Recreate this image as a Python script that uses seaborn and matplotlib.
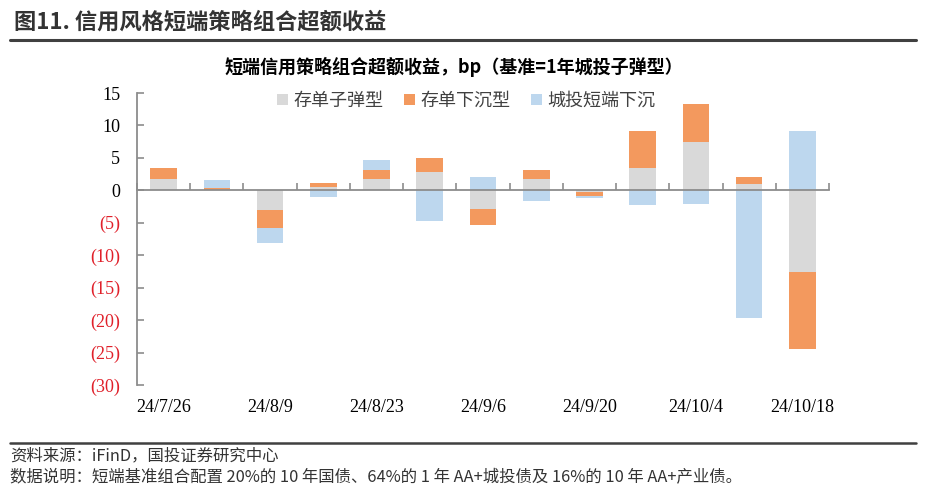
import numpy as np
import pandas as pd
import matplotlib
matplotlib.use("Agg")
import matplotlib.pyplot as plt
from matplotlib.patches import Patch
from matplotlib.lines import Line2D
import seaborn as sns

dates = ["24/7/26", "24/8/2", "24/8/9", "24/8/16", "24/8/23", "24/8/30", "24/9/6",
         "24/9/13", "24/9/20", "24/9/27", "24/10/4", "24/10/11", "24/10/18"]
series_names = ["存单子弹型", "存单下沉型", "城投短端下沉"]
cd_bullet = [1.7, 0.1, -3.0, 0.5, 1.75, 2.8, -2.8, 1.7, -0.3, 3.5, 7.5, 0.9, -12.6]
cd_sink = [1.8, 0.2, -2.8, 0.7, 1.45, 2.25, -2.6, 1.4, -0.6, 5.6, 5.75, 1.15, -11.9]
ct_sink = [0.0, 1.3, -2.3, -1.1, 1.45, -4.75, 2.05, -1.65, -0.3, -2.2, -2.1, -19.7, 9.2]
yticks = [15, 10, 5, 0, -5, -10, -15, -20, -25, -30]

colors = ["#D9D9D9", "#F3995E", "#BDD7EE"]

sns.set_theme(style="white")
plt.rcParams['font.family'] = ['Noto Sans CJK SC', 'DejaVu Sans']

fig = plt.figure(figsize=(9.26, 5.0), dpi=100)
ax = fig.add_axes([137 / 926, 1 - 385 / 500, (829 - 137) / 926, (385 - 93) / 500])

pos_base = np.zeros(len(dates))
neg_base = np.zeros(len(dates))
for name, vals, col in zip(series_names, [cd_bullet, cd_sink, ct_sink], colors):
    v = np.array(vals, dtype=float)
    bottom = np.where(v >= 0, pos_base, neg_base)
    df = pd.DataFrame({"date": dates, "value": v})
    sns.barplot(data=df, x="date", y="value", order=dates, bottom=bottom,
                color=col, width=0.5, saturation=1, ax=ax, errorbar=None,
                linewidth=0)
    pos_base = pos_base + np.where(v >= 0, v, 0)
    neg_base = neg_base + np.where(v < 0, v, 0)

ax.set_xlim(-0.5, len(dates) - 0.5)
ax.set_ylim(-30, 15)
ax.set_xlabel("")
ax.set_ylabel("")
ax.grid(False)

# x labels at bottom
ax.set_xticks(range(0, len(dates), 2))
ax.set_xticklabels([dates[i] for i in range(0, len(dates), 2)],
                   fontfamily="Liberation Serif", fontsize=13, color="black")
ax.tick_params(axis="x", length=0, pad=10)

# y axis
ax.set_yticks(yticks)
ax.set_yticklabels([str(t) if t >= 0 else f"({-t})" for t in yticks],
                   fontfamily="Liberation Serif", fontsize=13)
for lab, t in zip(ax.get_yticklabels(), yticks):
    lab.set_color("black" if t >= 0 else "#E0202A")
ax.tick_params(axis="y", direction="in", length=5, width=1.2, color="#8C8C8C", pad=12, left=True)

for s in ["top", "right", "bottom"]:
    ax.spines[s].set_visible(False)
ax.spines["left"].set_color("#8C8C8C")
ax.spines["left"].set_linewidth(1.3)

# category axis at zero with boundary ticks
ax2 = ax.twiny()
ax2.set_xlim(ax.get_xlim())
ax2.spines["bottom"].set_position(("data", 0))
for s in ["top", "right", "left"]:
    ax2.spines[s].set_visible(False)
ax2.spines["bottom"].set_color("#8C8C8C")
ax2.spines["bottom"].set_linewidth(1.3)
ax2.xaxis.set_ticks_position("bottom")
ax2.set_xticks(np.arange(-0.5, len(dates), 1.0))
ax2.set_xticklabels([])
ax2.tick_params(axis="x", direction="in", length=5, width=1.2, color="#8C8C8C")
ax2.grid(False)

# legend
handles = [Patch(facecolor=c, edgecolor="none") for c in colors]
fig.legend(handles, series_names, loc="center", bbox_to_anchor=(466 / 926, 1 - 101 / 500),
           ncol=3, frameon=False, fontsize=13, handlelength=0.6, handleheight=0.6,
           handletextpad=0.3, columnspacing=1.15, labelcolor="#404040")

# chart title
fig.text(454 / 926, 1 - 67 / 500, "短端信用策略组合超额收益，bp（基准=1年城投子弹型）",
         ha="center", va="center", fontsize=13, fontweight="bold", color="black")

# header
fig.text(14 / 926, 1 - 22 / 500, "图11. 信用风格短端策略组合超额收益",
         ha="left", va="center", fontsize=16, fontweight="bold", color="#333333")
fig.add_artist(Line2D([10 / 926, 916 / 926], [1 - 40 / 500, 1 - 40 / 500],
                      transform=fig.transFigure, color="#404040", linewidth=2.2))

# footer
fig.add_artist(Line2D([10 / 926, 916 / 926], [1 - 443 / 500, 1 - 443 / 500],
                      transform=fig.transFigure, color="#404040", linewidth=1.8))
fig.text(10 / 926, 1 - 456 / 500, "资料来源：iFinD，国投证券研究中心",
         ha="left", va="center", fontsize=11.8, color="#333333", style="italic")
fig.text(10 / 926, 1 - 478 / 500,
         "数据说明：短端基准组合配置 20%的 10 年国债、64%的 1 年 AA+城投债及 16%的 10 年 AA+产业债。",
         ha="left", va="center", fontsize=11.8, color="#333333", style="italic")

fig.savefig("out.png", dpi=100)
